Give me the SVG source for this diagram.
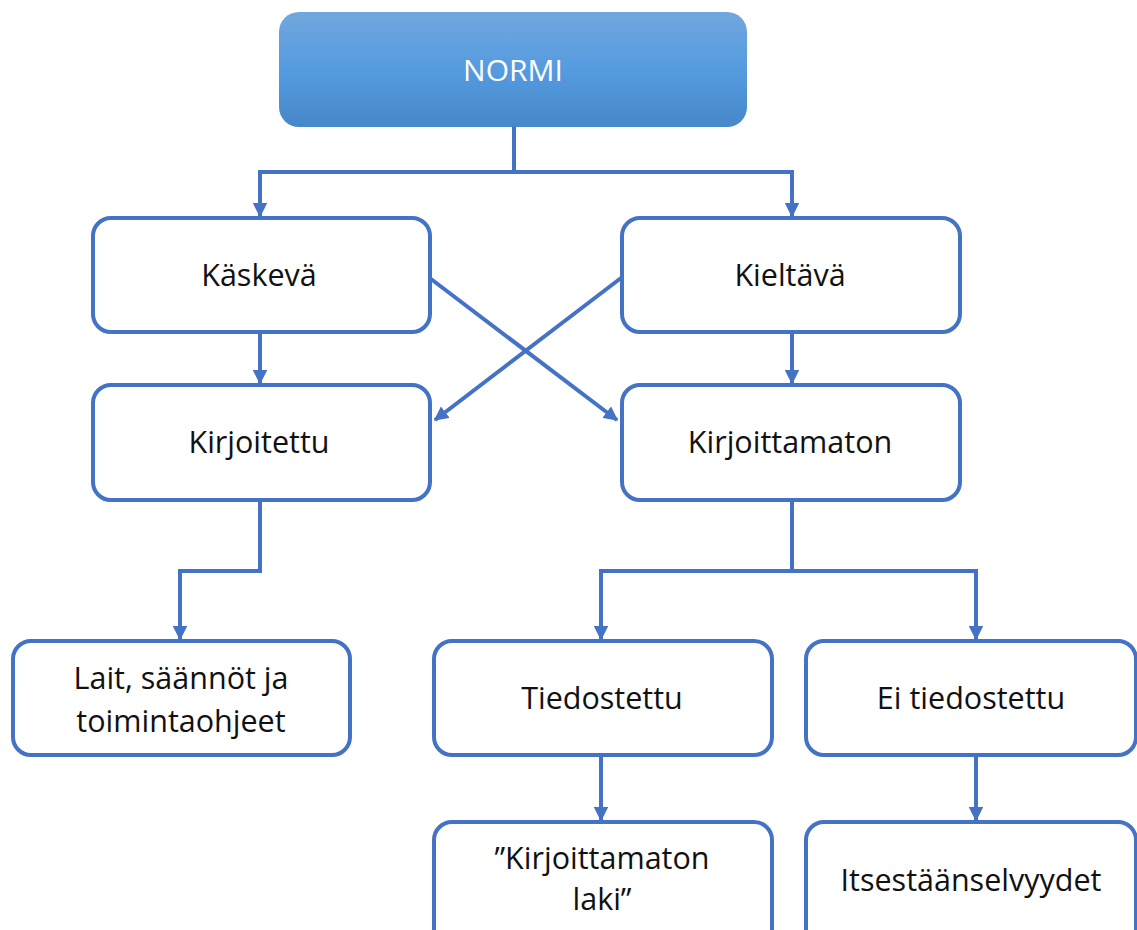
<svg xmlns="http://www.w3.org/2000/svg" width="1137" height="930" viewBox="0 0 1137 930">
  <defs>
    <linearGradient id="topFill" x1="0" y1="0" x2="0" y2="1">
      <stop offset="0" stop-color="#71a7dd"/>
      <stop offset="0.5" stop-color="#559be0"/>
      <stop offset="1" stop-color="#4688c9"/>
    </linearGradient>
    <marker id="arrow" viewBox="0 0 10 10" refX="9" refY="5" markerWidth="3.6" markerHeight="3.6" orient="auto" markerUnits="strokeWidth">
      <path d="M0,0 L10,5 L0,10 Z" fill="#4472c4"/>
    </marker>
    <style>
      .box { fill: #ffffff; stroke: #4472c4; stroke-width: 4; }
      .lbl { font-family: "Open Sans", "Liberation Sans", sans-serif; font-size: 30.5px; fill: #111111; text-anchor: middle; }
      .link { fill: none; stroke: #4472c4; stroke-width: 4; marker-end: url(#arrow); }
    </style>
  </defs>

  <rect width="1137" height="930" fill="#ffffff"/>

  <!-- connectors -->
  <g id="connectors">
    <path class="link" d="M514,127 V172 H260 V216"/>
    <path class="link" d="M514,172 H792 V216"/>
    <path class="link" d="M260,332 V383"/>
    <path class="link" d="M792,332 V383"/>
    <path class="link" d="M431,279 L617,420"/>
    <path class="link" d="M621,278 L435,420"/>
    <path class="link" d="M260,500 V571 H180 V639"/>
    <path class="link" d="M792,500 V571 H601 V639"/>
    <path class="link" d="M792,571 H976 V639"/>
    <path class="link" d="M601,755 V820"/>
    <path class="link" d="M976,755 V820"/>
  </g>

  <!-- nodes -->
  <g id="normi">
    <rect x="279" y="12" width="468" height="115" rx="20" fill="url(#topFill)"/>
    <text x="513" y="81" class="lbl" style="fill:#ffffff;font-size:30px">NORMI</text>
  </g>
  <g id="kaskeva">
    <rect class="box" x="93" y="218" width="337" height="114" rx="18"/>
    <text x="259" y="286" class="lbl">Käskevä</text>
  </g>
  <g id="kieltava">
    <rect class="box" x="622" y="218" width="338" height="114" rx="18"/>
    <text x="790" y="286" class="lbl">Kieltävä</text>
  </g>
  <g id="kirjoitettu">
    <rect class="box" x="93" y="385" width="337" height="115" rx="18"/>
    <text x="259" y="453" class="lbl">Kirjoitettu</text>
  </g>
  <g id="kirjoittamaton">
    <rect class="box" x="622" y="385" width="338" height="115" rx="18"/>
    <text x="790" y="453" class="lbl">Kirjoittamaton</text>
  </g>
  <g id="lait">
    <rect class="box" x="13" y="641" width="337" height="114" rx="18"/>
    <text x="181" y="689" class="lbl">Lait, säännöt ja</text>
    <text x="181" y="732" class="lbl">toimintaohjeet</text>
  </g>
  <g id="tiedostettu">
    <rect class="box" x="434" y="641" width="338" height="114" rx="18"/>
    <text x="602" y="709" class="lbl">Tiedostettu</text>
  </g>
  <g id="ei-tiedostettu">
    <rect class="box" x="806" y="641" width="330" height="114" rx="18"/>
    <text x="971" y="709" class="lbl">Ei tiedostettu</text>
  </g>
  <g id="kirjoittamaton-laki">
    <rect class="box" x="434" y="822" width="338" height="130" rx="18"/>
    <text x="602" y="869" class="lbl">”Kirjoittamaton</text>
    <text x="602" y="910" class="lbl">laki”</text>
  </g>
  <g id="itsestaanselvyydet">
    <rect class="box" x="806" y="822" width="330" height="130" rx="18"/>
    <text x="971" y="891" class="lbl">Itsestäänselvyydet</text>
  </g>
</svg>
